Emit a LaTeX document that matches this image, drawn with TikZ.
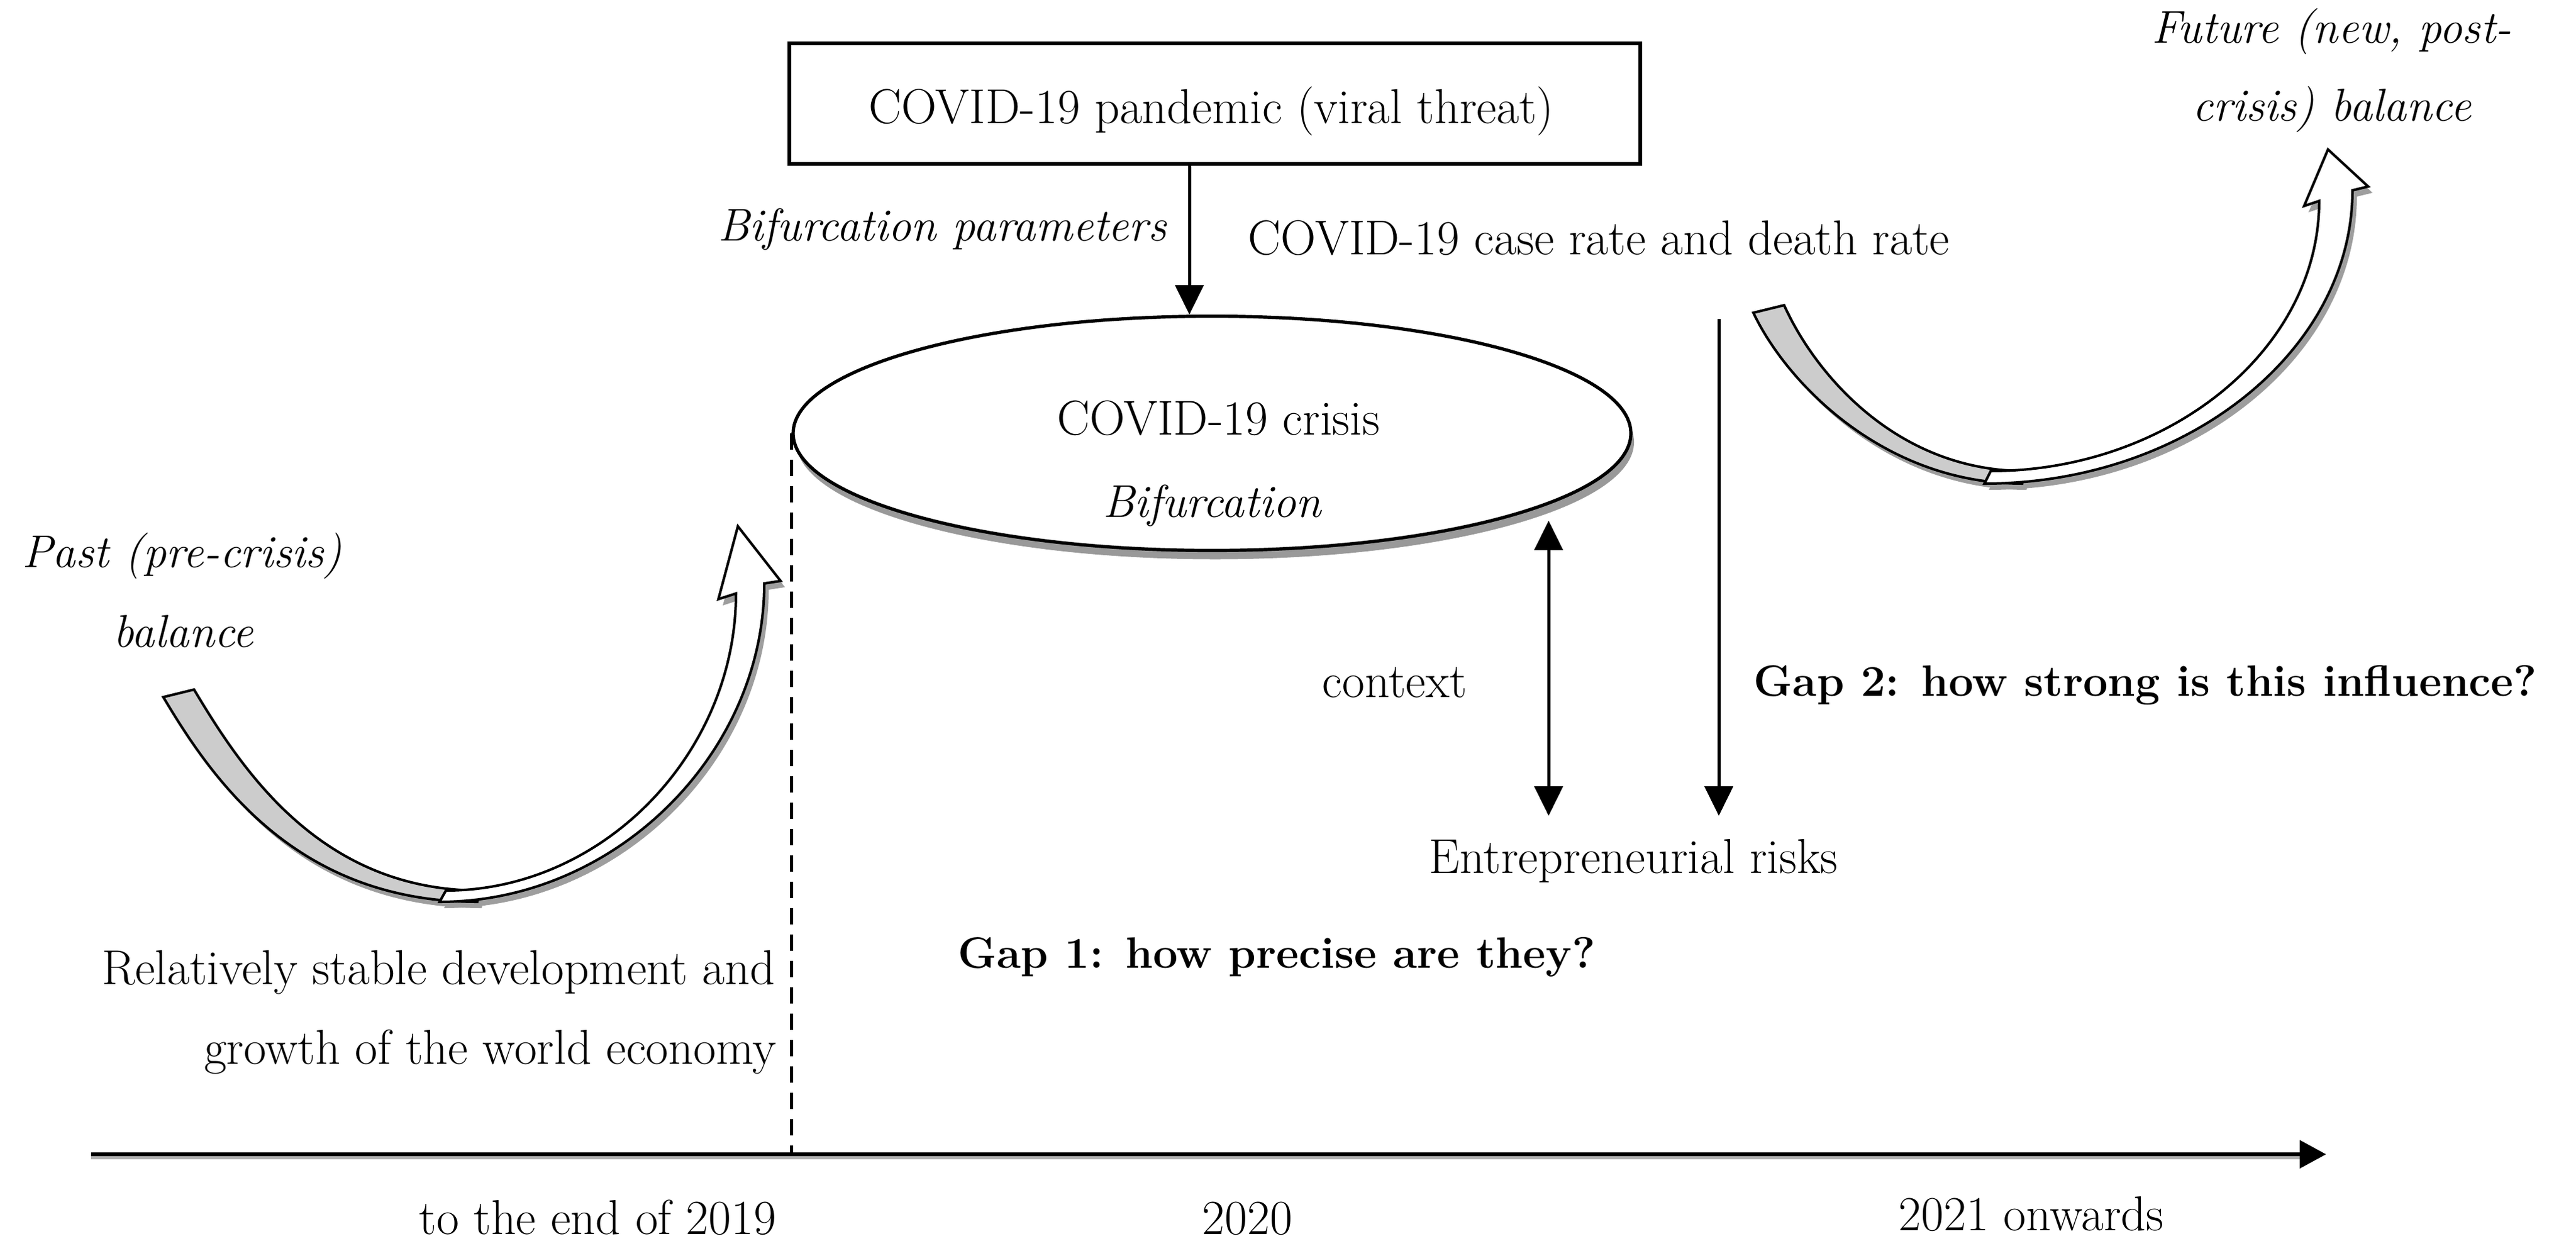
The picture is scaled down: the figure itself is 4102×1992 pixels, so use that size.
\documentclass[tikz,border=0pt]{standalone}
\usepackage{graphicx}
\usetikzlibrary{arrows.meta,shapes.geometric}
\newcommand{\lgraypath}[1]{\path[#1] (260,1110) .. controls (337,1239) and (470,1436) .. (760,1436) -- (765,1418) .. controls (510,1418) and (385,1225) .. (309,1098) -- cycle;}
\newcommand{\lwhitepath}[1]{\path[#1] (700,1436) .. controls (980,1436) and (1217,1200) .. (1217,929) -- (1243,925) -- (1175,838) -- (1144,954) -- (1172,945) .. controls (1172,1200) and (960,1418) .. (710,1418) -- cycle;}
\newcommand{\rgraypath}[1]{\path[#1] (2792,498) .. controls (2845,610) and (3000,770) .. (3220,770) -- (3225,750) .. controls (3020,750) and (2890,595) .. (2841,486) -- cycle;}
\newcommand{\rwhitepath}[1]{\path[#1] (3160,770) .. controls (3480,770) and (3746,560) .. (3746,303) -- (3771,297) -- (3707,238) -- (3669,328) -- (3693,320) .. controls (3693,560) and (3450,750) .. (3170,750) -- cycle;}
\begin{document}
\begin{tikzpicture}[x=0.25pt,y=-0.25pt,
  >={Triangle[length=11.75pt,width=11.25pt]},
  txt/.style={inner sep=0pt, font=\fontsize{19.5}{23}\selectfont},
  itxt/.style={inner sep=0pt, font=\fontsize{18.3}{22}\selectfont\itshape},
  btxt/.style={inner sep=0pt, font=\fontsize{17.5}{21}\selectfont\bfseries},
  conn/.style={line width=1.25pt},
  bandshadow/.style={fill=black!38, draw=none, shift={(7,10)}},
  bandgray/.style={fill=black!20, draw=black, line width=1pt, line join=miter},
  bandwhite/.style={fill=white, draw=black, line width=1pt, line join=miter},
]
\useasboundingbox (0,0) rectangle (4102,1992);
\fill[white] (0,0) rectangle (4102,1992);

% top box
\node[draw, fill=white, line width=1.5pt, minimum width=338.75pt, minimum height=48pt, inner sep=0pt] (pandemic) at (1934.5,165) {};
\node[txt, anchor=base] (pandtxt) at (1929,196) {COVID-19 pandemic (viral threat)};

% ellipse
\node[ellipse, fill=black!40, minimum width=333.5pt, minimum height=93.25pt, inner sep=0pt] (crisisshadow) at (1935,704) {};
\node[ellipse, draw, fill=white, line width=1.3pt, minimum width=333.5pt, minimum height=93.25pt, inner sep=0pt] (crisis) at (1930,690) {};
\node[txt, anchor=base] (crisistxt) at (1940,692) {COVID-19 crisis};
\node[itxt, anchor=base] (biftxt) at (1930,823) {Bifurcation};

% labels
\node[itxt, anchor=base east] (bifpar) at (1858,383) {Bifurcation parameters};
\node[txt, anchor=base west] (rates) at (1987,405) {COVID-19 case rate and death rate};
\node[itxt, anchor=base] (past1) at (290,903) {Past (pre-crisis)};
\node[itxt, anchor=base] (past2) at (292,1030) {balance};
\node[itxt, anchor=base] (fut1) at (3713,68) {Future (new, post-};
\node[itxt, anchor=base] (fut2) at (3713,192) {crisis) balance};
\node[txt, anchor=base east] (rel1) at (1235,1567) {Relatively stable development and};
\node[txt, anchor=base east] (rel2) at (1237,1694) {growth of the world economy};
\node[txt, anchor=base west] (context) at (2105,1110) {context};
\node[btxt, anchor=base west] (gap2) at (2792,1108) {Gap 2: how strong is this influence?};
\node[txt, anchor=base west] (risks) at (2275,1390) {Entrepreneurial risks};
\node[btxt, anchor=base west] (gap1) at (1525,1541) {Gap 1: how precise are they?};
\node[txt, anchor=base east] (t2019) at (1237,1965) {to the end of 2019};
\node[txt, anchor=base west] (t2020) at (1914,1965) {2020};
\node[txt, anchor=base west] (t2021) at (3023,1959) {2021 onwards};

% coordinates
\coordinate (a1x) at (1894,0);
\coordinate (ctxT) at (2466,829);
\coordinate (ctxB) at (2466,1299);
\coordinate (infT) at (2737,508);
\coordinate (infB) at (2737,1299);
\coordinate (axL) at (145,1838);
\coordinate (axR) at (3704,1838);

% connectors
\draw[conn, ->] (pandemic.south -| a1x) -- (crisis.north -| a1x);
\draw[conn, <->] (ctxT) -- (ctxB);
\draw[conn, ->] (infT) -- (infB);

% axis
\draw[black!30, line width=1.4pt] ([shift={(0,5)}]axL) -- ([shift={(-40,5)}]axR);
\draw[line width=1.4pt, -{Triangle[length=10.5pt,width=11pt]}] (axL) -- (axR);
\draw[line width=1.2pt, dash pattern=on 6.5pt off 4pt] (crisis.west) -- (crisis.west |- axL);

% curved arrows
\lgraypath{bandshadow}
\lwhitepath{bandshadow}
\lgraypath{bandgray}
\lwhitepath{bandwhite}
\rgraypath{bandshadow}
\rwhitepath{bandshadow}
\rgraypath{bandgray}
\rwhitepath{bandwhite}
\end{tikzpicture}
\end{document}
